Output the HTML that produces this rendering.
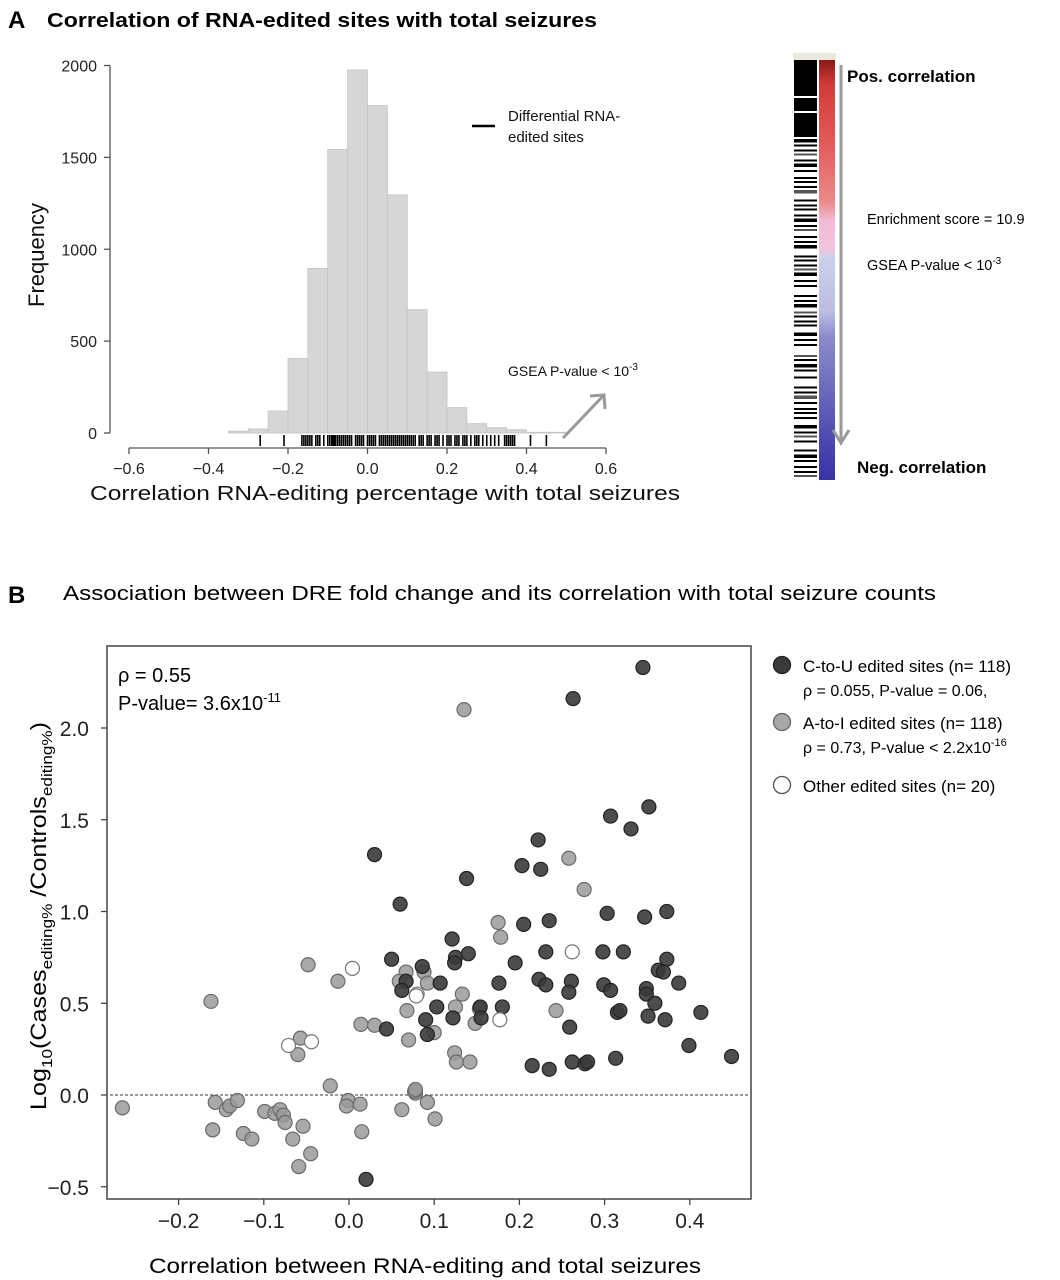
<!DOCTYPE html>
<html><head><meta charset="utf-8"><style>
html,body{margin:0;padding:0;background:#fff;}
svg{display:block;font-family:"Liberation Sans",sans-serif;}
</style></head><body>
<svg id="fig" width="1060" height="1280" viewBox="0 0 1060 1280">
<g>
<text x="8" y="28" font-size="24" font-weight="bold">A</text>
<text x="47" y="27" font-size="20" font-weight="bold" textLength="550" lengthAdjust="spacingAndGlyphs">Correlation of RNA-edited sites with total seizures</text>
</g>
<g id="hist"></g>
<g id="gsea"></g>
<g>
<text x="8" y="603" font-size="24" font-weight="bold">B</text>
<text x="63" y="600" font-size="20" textLength="873" lengthAdjust="spacingAndGlyphs">Association between DRE fold change and its correlation with total seizure counts</text>
</g>
<g id="scatter"></g>
</svg>
<script>
// ---------- Histogram data ----------
const binStarts = [-0.35,-0.3,-0.25,-0.2,-0.15,-0.1,-0.05,0,0.05,0.1,0.15,0.2,0.25,0.3,0.35,0.4,0.45];
const binCounts = [10,22,120,406,896,1543,1976,1782,1296,671,332,138,51,29,18,4,4];
const histYTicks = [0,500,1000,1500,2000];
const histXTicks = ["-0.6","-0.4","-0.2","0.0","0.2","0.4","0.6"];
const rugValues = [-0.27,-0.21,-0.165,-0.16,-0.155,-0.15,-0.145,-0.14,-0.13,-0.125,-0.12,-0.11,-0.1,-0.095,-0.09,-0.088,-0.085,-0.082,-0.08,-0.075,-0.07,-0.065,-0.06,-0.055,-0.05,-0.045,-0.04,-0.03,-0.025,-0.02,-0.015,-0.01,0,0.005,0.01,0.015,0.02,0.03,0.035,0.04,0.045,0.05,0.055,0.06,0.065,0.07,0.075,0.08,0.085,0.09,0.095,0.1,0.105,0.11,0.115,0.12,0.13,0.135,0.14,0.15,0.155,0.16,0.17,0.175,0.18,0.19,0.2,0.205,0.21,0.22,0.225,0.23,0.24,0.245,0.25,0.26,0.27,0.275,0.28,0.29,0.3,0.31,0.32,0.33,0.345,0.35,0.355,0.36,0.365,0.37,0.41,0.45];

// ---------- Scatter data ----------
const ctuX = [0.345,0.263,0.352,0.307,0.331,0.222,0.203,0.225,0.138,0.303,0.347,0.373,0.205,0.235,0.121,0.125,0.124,0.140,0.231,0.298,0.322,0.373,0.363,0.369,0.387,0.195,0.086,0.107,0.176,0.223,0.231,0.261,0.258,0.299,0.307,0.349,0.349,0.359,0.103,0.154,0.180,0.122,0.090,0.155,0.092,0.315,0.318,0.351,0.371,0.413,0.259,0.399,0.449,0.215,0.235,0.262,0.277,0.280,0.313,0.030,0.060,0.050,0.067,0.062,0.044,0.020];
const ctuY = [2.33,2.16,1.57,1.52,1.45,1.39,1.25,1.23,1.18,0.99,0.97,1.00,0.93,0.95,0.85,0.75,0.72,0.77,0.78,0.78,0.78,0.74,0.68,0.67,0.61,0.72,0.70,0.61,0.61,0.63,0.60,0.62,0.56,0.60,0.57,0.58,0.55,0.50,0.48,0.48,0.48,0.42,0.41,0.42,0.33,0.45,0.46,0.43,0.41,0.45,0.37,0.27,0.21,0.16,0.14,0.18,0.17,0.18,0.20,1.31,1.04,0.74,0.62,0.57,0.36,-0.46];
const atiX = [0.135,0.258,0.276,0.175,0.178,0.133,0.088,0.092,0.125,0.153,0.148,0.100,0.243,0.124,0.126,0.142,0.078,0.092,0.101,-0.048,-0.013,-0.162,0.014,0.030,0.067,0.059,0.068,0.070,-0.057,-0.060,-0.022,-0.266,-0.157,-0.144,-0.140,-0.131,-0.160,-0.124,-0.114,-0.099,-0.087,-0.081,-0.077,-0.075,-0.066,-0.054,-0.045,-0.059,-0.001,-0.003,0.013,0.015,0.062,0.077,0.078];
const atiY = [2.10,1.29,1.12,0.94,0.86,0.55,0.67,0.61,0.48,0.47,0.39,0.34,0.46,0.23,0.18,0.18,0.01,-0.04,-0.13,0.71,0.62,0.51,0.385,0.38,0.67,0.62,0.46,0.30,0.31,0.22,0.05,-0.07,-0.04,-0.08,-0.06,-0.03,-0.19,-0.21,-0.24,-0.09,-0.10,-0.08,-0.11,-0.15,-0.24,-0.17,-0.32,-0.39,-0.03,-0.06,-0.05,-0.20,-0.08,0.02,0.03];
const otherX = [0.262,0.177,0.080,0.004,-0.071,-0.044,0.079];
const otherY = [0.78,0.41,0.55,0.69,0.27,0.29,0.54];
const scXTicks = ["-0.2","-0.1","0.0","0.1","0.2","0.3","0.4"];
const scYTicks = ["-0.5","0.0","0.5","1.0","1.5","2.0"];

const NS = "http://www.w3.org/2000/svg";
function mk(parent, tag, attrs){
  const e = document.createElementNS(NS, tag);
  for (const k in attrs) e.setAttribute(k, attrs[k]);
  parent.appendChild(e); return e;
}

// ---------- Histogram ----------
const hist = document.getElementById('hist');
const hx = v => 129 + (v + 0.6) * 397.5;
const hy = v => 433 - v * 0.18375;
binStarts.forEach((b,i)=>{
  const r = mk(hist,'rect',{x:hx(b),y:hy(binCounts[i]),width:hx(b+0.05)-hx(b),height:433-hy(binCounts[i]),fill:'#d6d6d6',stroke:'#c4c4c4','stroke-width':0.8});
  
  
});
mk(hist,'line',{x1:110,y1:hy(0),x2:110,y2:hy(2000),stroke:'#555','stroke-width':1.3});
histYTicks.forEach(t=>{
  mk(hist,'line',{x1:104,y1:hy(t),x2:110,y2:hy(t),stroke:'#555','stroke-width':1.3});
  const tx = mk(hist,'text',{x:97,y:hy(t)+6,'font-size':16,'text-anchor':'end',fill:'#222'});
  tx.textContent = t;
  
  
});
mk(hist,'line',{x1:hx(-0.6),y1:448,x2:hx(0.6),y2:448,stroke:'#555','stroke-width':1.3});
histXTicks.forEach(t=>{
  const v = parseFloat(t);
  mk(hist,'line',{x1:hx(v),y1:448,x2:hx(v),y2:454,stroke:'#555','stroke-width':1.3});
  const tx = mk(hist,'text',{x:hx(v),y:474,'font-size':16,'text-anchor':'middle',fill:'#222'});
  tx.textContent = t.replace('-','\u2212');
  
  
});
rugValues.forEach(v=>{
  const l = mk(hist,'line',{x1:hx(v),y1:435,x2:hx(v),y2:446,stroke:'#000','stroke-width':1.6});
  
  
});
{
  let t = mk(hist,'text',{x:0,y:0,'font-size':22,'text-anchor':'middle',transform:'translate(44,255) rotate(-90)',fill:'#111'});
  t.textContent='Frequency';
   
  t = mk(hist,'text',{x:385,y:500,'font-size':20,'text-anchor':'middle',fill:'#111',textLength:590,lengthAdjust:'spacingAndGlyphs'});
  t.textContent='Correlation RNA-editing percentage with total seizures';
   
  mk(hist,'line',{x1:472,y1:126,x2:495,y2:126,stroke:'#000','stroke-width':2.5});
  t = mk(hist,'text',{x:508,y:121,'font-size':15,fill:'#111'}); t.textContent='Differential RNA-';
   
  t = mk(hist,'text',{x:508,y:142,'font-size':15,fill:'#111'}); t.textContent='edited sites';
   
  t = mk(hist,'text',{x:508,y:376,'font-size':14,fill:'#111'}); t.innerHTML='GSEA P-value &lt; 10<tspan dy="-6" font-size="10">-3</tspan>';
   
  mk(hist,'line',{x1:563,y1:438,x2:603,y2:396,stroke:'#999','stroke-width':3});
  mk(hist,'polyline',{points:'590,396 604,395 605,409',fill:'none',stroke:'#999','stroke-width':3});
}

// ---------- GSEA heat strip ----------
const gsea = document.getElementById('gsea');
{
  mk(gsea,'rect',{x:793,y:53,width:43,height:7,fill:'#ebe8dc'});
  mk(gsea,'rect',{x:794,y:60,width:23,height:420,fill:'#fff'});
  const defs = mk(gsea,'defs',{});
  const lg = mk(defs,'linearGradient',{id:'rb',x1:0,y1:0,x2:0,y2:1});
  [[0,'#8a1a1a'],[0.06,'#d43a3a'],[0.2,'#e35a5a'],[0.34,'#ec8b8b'],[0.38,'#f2b9d4'],[0.45,'#f4c4dc'],[0.47,'#ccd0ea'],[0.6,'#bdbce2'],[0.66,'#8c8acb'],[0.75,'#7574c0'],[0.9,'#4e4ab0'],[1,'#3a32a8']].forEach(s=>mk(lg,'stop',{offset:s[0],'stop-color':s[1]}));
  const cb = mk(gsea,'rect',{x:819,y:60,width:16,height:420,fill:'url(#rb)'});
   
  const blk = mk(gsea,'g',{});
   
  mk(blk,'rect',{x:794,y:60,width:23,height:36,fill:'#000'});
  mk(blk,'rect',{x:794,y:98,width:23,height:13,fill:'#000'});
  mk(blk,'rect',{x:794,y:113,width:23,height:24,fill:'#000'});
  let y = 139;
  const gaps=[2,3,2,4,2,3,5,2,3,2,6,3,2,4,2,3,2,5,3,2,7,2,3,2,2,4,3,8,3,2,4,2,3,2,6,3,3,9,2,3,2,5,8,3,2,3,4,2,3,6,3,2,3,7,3,2,4,3,2,5,3,3,2,6,3,2,4,3,2,3,5,2,3,4,3,2,6,3,2,4,3,2];
  let i=0;
  while(y<478){ const h=(i%5===0)?3.5:2; mk(blk,'rect',{x:794,y:y,width:23,height:h,fill:(i%7===3)?'#555':'#000'}); y+=h+gaps[i%gaps.length]; i++; }
  mk(gsea,'line',{x1:841,y1:65,x2:841,y2:440,stroke:'#999','stroke-width':3});
  mk(gsea,'polyline',{points:'833,430 841,443 849,430',fill:'none',stroke:'#999','stroke-width':3});
  let t = mk(gsea,'text',{x:847,y:82,'font-size':17,'font-weight':'bold'}); t.textContent='Pos. correlation';
   
  t = mk(gsea,'text',{x:857,y:473,'font-size':17,'font-weight':'bold'}); t.textContent='Neg. correlation';
   
  t = mk(gsea,'text',{x:867,y:224,'font-size':14.5}); t.textContent='Enrichment score = 10.9';
   
  t = mk(gsea,'text',{x:867,y:270,'font-size':14.5}); t.innerHTML='GSEA P-value &lt; 10<tspan dy="-6" font-size="10">-3</tspan>';
   
}

// ---------- Scatter ----------
const sc = document.getElementById('scatter');
const sx = v => 349 + v * 852;
const sy = v => 1095 - v * 183.5;
mk(sc,'rect',{x:107,y:646,width:644,height:553,fill:'#fff',stroke:'#444','stroke-width':1.5});
mk(sc,'line',{x1:110,y1:sy(0),x2:749,y2:sy(0),stroke:'#333','stroke-width':1,'stroke-dasharray':'3,2'});
scYTicks.forEach(t=>{
  const v=parseFloat(t);
  mk(sc,'line',{x1:101,y1:sy(v),x2:107,y2:sy(v),stroke:'#444','stroke-width':1.3});
  const tx = mk(sc,'text',{x:89,y:sy(v)+8,'font-size':21,'text-anchor':'end',fill:'#222'});
  tx.textContent=t.replace('-','\u2212');
   
});
scXTicks.forEach(t=>{
  const v=parseFloat(t);
  mk(sc,'line',{x1:sx(v),y1:1199,x2:sx(v),y2:1205,stroke:'#444','stroke-width':1.3});
  const tx = mk(sc,'text',{x:sx(v),y:1228,'font-size':21,'text-anchor':'middle',fill:'#222'});
  tx.textContent=t.replace('-','\u2212');
   
});
function pts(xs,ys,fill,stroke,name,op){
  xs.forEach((x,i)=>{
    const c = mk(sc,'circle',{cx:sx(x),cy:sy(ys[i]),r:7,fill:fill,stroke:stroke,'stroke-width':1.2,'fill-opacity':op});
    
    
  });
}
pts(atiX,atiY,'#9a9a9a','#6a6a6a','point-a-to-i',0.85);
pts(ctuX,ctuY,'#3a3a3a','#222','point-c-to-u',0.9);
pts(otherX,otherY,'#fff','#777','point-other',1);
{
  let t = mk(sc,'text',{x:118,y:682,'font-size':20}); t.textContent='\u03C1 = 0.55';
   
  t = mk(sc,'text',{x:118,y:710,'font-size':20}); t.innerHTML='P-value= 3.6x10<tspan dy="-8" font-size="13">-11</tspan>';
   
  t = mk(sc,'text',{x:0,y:0,'font-size':22,'text-anchor':'middle',transform:'translate(46,916) rotate(-90)',textLength:388,lengthAdjust:'spacingAndGlyphs'});
  t.innerHTML='Log<tspan dy="6" font-size="15">10</tspan><tspan dy="-6">(Cases</tspan><tspan dy="6" font-size="15">editing%</tspan><tspan dy="-6"> /Controls</tspan><tspan dy="6" font-size="15">editing%</tspan><tspan dy="-6">)</tspan>';
   
  t = mk(sc,'text',{x:425,y:1273,'font-size':21,'text-anchor':'middle',textLength:552,lengthAdjust:'spacingAndGlyphs'});
  t.textContent='Correlation between RNA-editing and total seizures';
   
  const leg=[[665,'#3a3a3a','#222','C-to-U edited sites (n= 118)','\u03C1 = 0.055,  P-value = 0.06,',null],[722,'#a8a8a8','#666','A-to-I edited sites (n= 118)','\u03C1 = 0.73,  P-value &lt; 2.2x10','-16'],[785,'#fff','#555','Other edited sites (n= 20)',null,null]];
  leg.forEach(l=>{
    const c = mk(sc,'circle',{cx:782,cy:l[0],r:8.5,fill:l[1],stroke:l[2],'stroke-width':1.3});
     
    const a = mk(sc,'text',{x:803,y:l[0]+7,'font-size':17}); a.textContent=l[3];
     
    if(l[4]){
      const b = mk(sc,'text',{x:803,y:l[0]+31,'font-size':16});
      b.innerHTML = l[4] + (l[5]?'<tspan dy="-7" font-size="11">'+l[5]+'</tspan>':'');
       
    }
  });
}
</script>
</body></html>
